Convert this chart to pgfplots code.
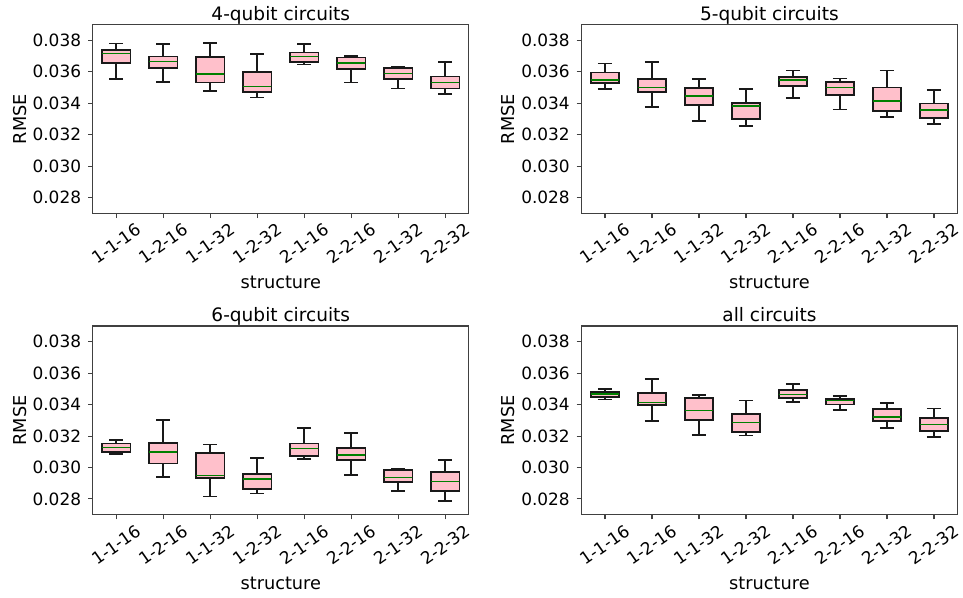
\documentclass[border=0pt]{standalone}
\usepackage{pgfplots}
\pgfplotsset{compat=1.18}
\usepgfplotslibrary{statistics}
\usepackage{fontspec}
\setmainfont{DejaVu Sans}
\definecolor{boxpink}{RGB}{255,192,203}
\definecolor{medgreen}{RGB}{0,128,0}
\pgfplotsset{
  panel/.style={
    scale only axis,
    width=282pt, height=141.5pt,
    anchor=north west,
    xmin=0.5, xmax=8.5,
    ymin=0.027, ymax=0.039,
    xtick={1,2,3,4,5,6,7,8},
    xticklabels={\rotatebox{35}{1-1-16},\rotatebox{35}{1-2-16},\rotatebox{35}{1-1-32},\rotatebox{35}{1-2-32},\rotatebox{35}{2-1-16},\rotatebox{35}{2-2-16},\rotatebox{35}{2-1-32},\rotatebox{35}{2-2-32}},
    ytick={0.028,0.030,0.032,0.034,0.036,0.038},
    yticklabels={0.028,0.030,0.032,0.034,0.036,0.038},
    scaled y ticks=false,
    /pgf/number format/assume math mode=true,
    tick align=outside,
    xtick pos=bottom, ytick pos=left,
    major tick length=3.6pt,
    axis line style={draw=black!75, line width=0.8pt},
    every tick/.style={draw=black!75, line width=0.8pt},
    tick label style={font=\fontsize{12.7}{15}\selectfont},
    xticklabel style={anchor=north, inner sep=1pt, yshift=-2pt},
    yticklabel style={inner sep=2pt, xshift=-3pt},
    xlabel={structure},
    ylabel={RMSE},
    label style={font=\fontsize{13.3}{16}\selectfont},
    xlabel style={yshift=-4pt},
    ylabel style={yshift=-1pt},
    title style={font=\fontsize{13.9}{16}\selectfont, anchor=base, yshift=-2.8pt},
    boxplot/draw direction=y,
    boxplot/box extend=0.6,
    boxplot/whisker extend=0.3,
    boxplot/every median/.style={draw=medgreen, line width=1.1pt},
  },
  bx/.style={draw=black!90, fill=boxpink, line width=1.3pt, solid, mark=none},
}
\begin{document}
\begin{tikzpicture}[font=\fontsize{12.7}{15}\selectfont]
\useasboundingbox (0,0) rectangle (722.25pt,-448.5pt);

% ---------------- 4-qubit
\begin{axis}[panel, at={(69.6pt,-18.5pt)}, title={4-qubit circuits}]
\addplot[bx, boxplot prepared={draw position=1, lower whisker=0.03553, lower quartile=0.03657, median=0.03715, upper quartile=0.03738, upper whisker=0.03781}] coordinates {};
\addplot[bx, boxplot prepared={draw position=2, lower whisker=0.03536, lower quartile=0.03623, median=0.03666, upper quartile=0.03698, upper whisker=0.03779}] coordinates {};
\addplot[bx, boxplot prepared={draw position=3, lower whisker=0.03479, lower quartile=0.03532, median=0.03585, upper quartile=0.03696, upper whisker=0.03783}] coordinates {};
\addplot[bx, boxplot prepared={draw position=4, lower whisker=0.03436, lower quartile=0.03472, median=0.03506, upper quartile=0.03598, upper whisker=0.03715}] coordinates {};
\addplot[bx, boxplot prepared={draw position=5, lower whisker=0.03647, lower quartile=0.03664, median=0.03696, upper quartile=0.03723, upper whisker=0.03779}] coordinates {};
\addplot[bx, boxplot prepared={draw position=6, lower whisker=0.03532, lower quartile=0.03619, median=0.03655, upper quartile=0.03691, upper whisker=0.03700}] coordinates {};
\addplot[bx, boxplot prepared={draw position=7, lower whisker=0.03494, lower quartile=0.03553, median=0.03591, upper quartile=0.03626, upper whisker=0.03632}] coordinates {};
\addplot[bx, boxplot prepared={draw position=8, lower whisker=0.03457, lower quartile=0.03494, median=0.03532, upper quartile=0.03570, upper whisker=0.03662}] coordinates {};
\end{axis}

% ---------------- 5-qubit
\begin{axis}[panel, at={(436.1pt,-18.5pt)}, title={5-qubit circuits}]
\addplot[bx, boxplot prepared={draw position=1, lower whisker=0.03491, lower quartile=0.03528, median=0.03547, upper quartile=0.03596, upper whisker=0.03653}] coordinates {};
\addplot[bx, boxplot prepared={draw position=2, lower whisker=0.03377, lower quartile=0.03472, median=0.03500, upper quartile=0.03553, upper whisker=0.03662}] coordinates {};
\addplot[bx, boxplot prepared={draw position=3, lower whisker=0.03289, lower quartile=0.03391, median=0.03445, upper quartile=0.03496, upper whisker=0.03553}] coordinates {};
\addplot[bx, boxplot prepared={draw position=4, lower whisker=0.03255, lower quartile=0.03300, median=0.03383, upper quartile=0.03400, upper whisker=0.03489}] coordinates {};
\addplot[bx, boxplot prepared={draw position=5, lower whisker=0.03432, lower quartile=0.03509, median=0.03549, upper quartile=0.03566, upper whisker=0.03609}] coordinates {};
\addplot[bx, boxplot prepared={draw position=6, lower whisker=0.03360, lower quartile=0.03453, median=0.03500, upper quartile=0.03534, upper whisker=0.03557}] coordinates {};
\addplot[bx, boxplot prepared={draw position=7, lower whisker=0.03311, lower quartile=0.03351, median=0.03413, upper quartile=0.03500, upper whisker=0.03609}] coordinates {};
\addplot[bx, boxplot prepared={draw position=8, lower whisker=0.03266, lower quartile=0.03306, median=0.03357, upper quartile=0.03398, upper whisker=0.03485}] coordinates {};
\end{axis}

% ---------------- 6-qubit
\begin{axis}[panel, at={(69.6pt,-244.5pt)}, title={6-qubit circuits}]
\addplot[bx, boxplot prepared={draw position=1, lower whisker=0.03088, lower quartile=0.03099, median=0.03128, upper quartile=0.03152, upper whisker=0.03173}] coordinates {};
\addplot[bx, boxplot prepared={draw position=2, lower whisker=0.02940, lower quartile=0.03025, median=0.03099, upper quartile=0.03156, upper whisker=0.03302}] coordinates {};
\addplot[bx, boxplot prepared={draw position=3, lower whisker=0.02815, lower quartile=0.02931, median=0.02950, upper quartile=0.03094, upper whisker=0.03147}] coordinates {};
\addplot[bx, boxplot prepared={draw position=4, lower whisker=0.02834, lower quartile=0.02861, median=0.02927, upper quartile=0.02957, upper whisker=0.03061}] coordinates {};
\addplot[bx, boxplot prepared={draw position=5, lower whisker=0.03052, lower quartile=0.03071, median=0.03120, upper quartile=0.03152, upper whisker=0.03251}] coordinates {};
\addplot[bx, boxplot prepared={draw position=6, lower whisker=0.02950, lower quartile=0.03046, median=0.03080, upper quartile=0.03124, upper whisker=0.03220}] coordinates {};
\addplot[bx, boxplot prepared={draw position=7, lower whisker=0.02851, lower quartile=0.02908, median=0.02938, upper quartile=0.02984, upper whisker=0.02993}] coordinates {};
\addplot[bx, boxplot prepared={draw position=8, lower whisker=0.02787, lower quartile=0.02849, median=0.02910, upper quartile=0.02970, upper whisker=0.03048}] coordinates {};
\end{axis}

% ---------------- all
\begin{axis}[panel, at={(436.1pt,-244.5pt)}, title={all circuits}]
\addplot[bx, boxplot prepared={draw position=1, lower whisker=0.03433, lower quartile=0.03448, median=0.03467, upper quartile=0.03480, upper whisker=0.03499}] coordinates {};
\addplot[bx, boxplot prepared={draw position=2, lower whisker=0.03296, lower quartile=0.03397, median=0.03412, upper quartile=0.03476, upper whisker=0.03565}] coordinates {};
\addplot[bx, boxplot prepared={draw position=3, lower whisker=0.03207, lower quartile=0.03302, median=0.03364, upper quartile=0.03442, upper whisker=0.03459}] coordinates {};
\addplot[bx, boxplot prepared={draw position=4, lower whisker=0.03203, lower quartile=0.03228, median=0.03285, upper quartile=0.03340, upper whisker=0.03427}] coordinates {};
\addplot[bx, boxplot prepared={draw position=5, lower whisker=0.03417, lower quartile=0.03442, median=0.03465, upper quartile=0.03491, upper whisker=0.03529}] coordinates {};
\addplot[bx, boxplot prepared={draw position=6, lower whisker=0.03368, lower quartile=0.03400, median=0.03425, upper quartile=0.03438, upper whisker=0.03453}] coordinates {};
\addplot[bx, boxplot prepared={draw position=7, lower whisker=0.03251, lower quartile=0.03298, median=0.03321, upper quartile=0.03370, upper whisker=0.03408}] coordinates {};
\addplot[bx, boxplot prepared={draw position=8, lower whisker=0.03194, lower quartile=0.03232, median=0.03275, upper quartile=0.03313, upper whisker=0.03376}] coordinates {};
\end{axis}
\end{tikzpicture}
\end{document}
